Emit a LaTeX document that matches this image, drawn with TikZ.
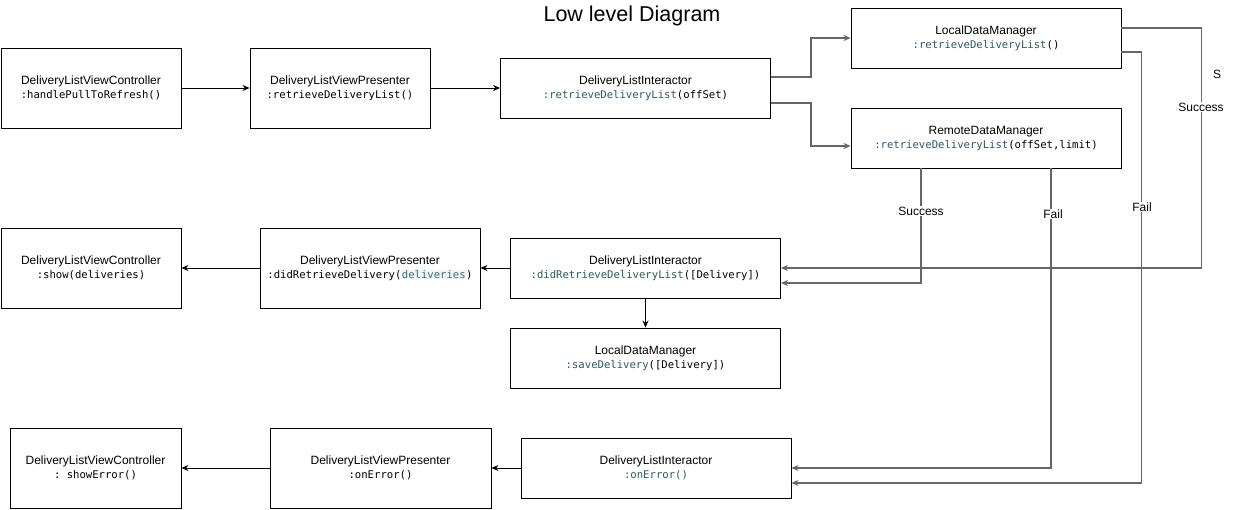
\documentclass[tikz,border=0pt]{standalone}
\usepackage{fontspec}
\setmainfont{Liberation Sans}
\setmonofont{DejaVu Sans Mono}
\usetikzlibrary{arrows.meta}
\definecolor{fncol}{HTML}{2C5A5E}
\definecolor{varcol}{HTML}{3A7379}
\definecolor{hlcol}{HTML}{F1F3F5}
\definecolor{wirecol}{HTML}{666666}
\newcommand{\fnc}[1]{\textcolor{fncol}{#1}}
\newcommand{\mth}[1]{{\fontsize{10.6}{14}\ttfamily #1}}
\newcommand{\hlt}[1]{{\setlength{\fboxsep}{0.5pt}\colorbox{hlcol}{#1}}}
\begin{document}
\begin{tikzpicture}[x=1pt,y=-1pt,
  box/.style={draw=black, line width=0.9pt, inner sep=0pt, align=center, fill=white,
    font=\fontsize{12}{14}\selectfont},
  bigbox/.style={box, minimum width=180pt, minimum height=80pt},
  smallbox/.style={box, minimum width=270pt, minimum height=60pt},
  arr/.style={-{Stealth[length=7pt,width=6pt]}, line width=0.9pt, draw=black},
  wire/.style={-{Stealth[length=7pt,width=6pt]}, line width=1.2pt, draw=wirecol},
  lbl/.style={fill=white, inner sep=1pt, font=\fontsize{12}{14}\selectfont},
  title/.style={font=\fontsize{21.5}{24}\selectfont}]
\useasboundingbox (0,0) rectangle (1234,509);

\node[title] (t) at (632,16) {Low level Diagram};

% row 1
\node[bigbox] (a1) at (91,88) {DeliveryListViewController\\\mth{:handlePullToRefresh()}};
\node[bigbox] (a2) at (340,88) {DeliveryListViewPresenter\\\mth{:retrieveDeliveryList()}};
\node[smallbox] (a3) at (635.5,88) {DeliveryListInteractor\\\mth{\fnc{:retrieveDeliveryList}(offSet)}};
\node[smallbox] (l1) at (986,38) {LocalDataManager\\\mth{\fnc{:retrieveDeliveryList}()}};
\node[smallbox] (r1) at (986,138) {RemoteDataManager\\\mth{\fnc{:retrieveDeliveryList}(offSet,limit)}};

% row 2
\node[bigbox] (b1) at (91,268) {DeliveryListViewController\\\mth{:show(deliveries)}};
\node[bigbox, minimum width=220pt] (b2) at (370,268) {DeliveryListViewPresenter\\\mth{:didRetrieveDelivery(\hlt{\textcolor{varcol}{deliveries}})}};
\node[smallbox] (b3) at (645.5,268) {DeliveryListInteractor\\\mth{\fnc{:didRetrieveDeliveryList}([Delivery])}};
\node[smallbox] (b4) at (645.5,358) {LocalDataManager\\\mth{\fnc{:saveDelivery}([Delivery])}};

% row 3
\node[bigbox, minimum width=171pt] (c1) at (95.5,468) {DeliveryListViewController\\\mth{: showError()}};
\node[bigbox, minimum width=221pt] (c2) at (380.5,468) {DeliveryListViewPresenter\\\mth{:onError()}};
\node[smallbox] (c3) at (656,468) {DeliveryListInteractor\\\mth{\fnc{:onError()}}};

% row 1 connectors
\draw[arr] (a1.east) -- (a2.west);
\draw[arr] (a2.east) -- (a3.west);
\draw[wire] ([yshift=11pt]a3.east) -- ++(40pt,0) |- (l1.west);
\draw[wire] ([yshift=-15pt]a3.east) -- ++(40pt,0) |- ([yshift=-8pt]r1.west);

% long routed connectors
\draw[wire] ([yshift=10pt]l1.east) -- ++(80pt,0) |- (b3.east);
\draw[wire] ([yshift=-14pt]l1.east) -- ++(20pt,0) |- ([yshift=-15pt]c3.east);
\draw[wire] ([xshift=-65pt]r1.south) |- ([yshift=-15pt]b3.east);
\draw[wire] ([xshift=65pt]r1.south) |- (c3.east);

\node[lbl] (ls1) at (1201,107) {Success};
\node[lbl] (lsx) at (1217,74) {S};
\node[lbl] (lf1) at (1142,207) {Fail};
\node[lbl] (ls2) at (921,211) {Success};
\node[lbl] (lf2) at (1053,214) {Fail};

% row 2 connectors
\draw[arr] (b3.west) -- (b2.east);
\draw[arr] (b2.west) -- (b1.east);
\draw[arr] (b3.south) -- (b4.north);

% row 3 connectors
\draw[arr] (c3.west) -- (c2.east);
\draw[arr] (c2.west) -- (c1.east);
\end{tikzpicture}
\end{document}
